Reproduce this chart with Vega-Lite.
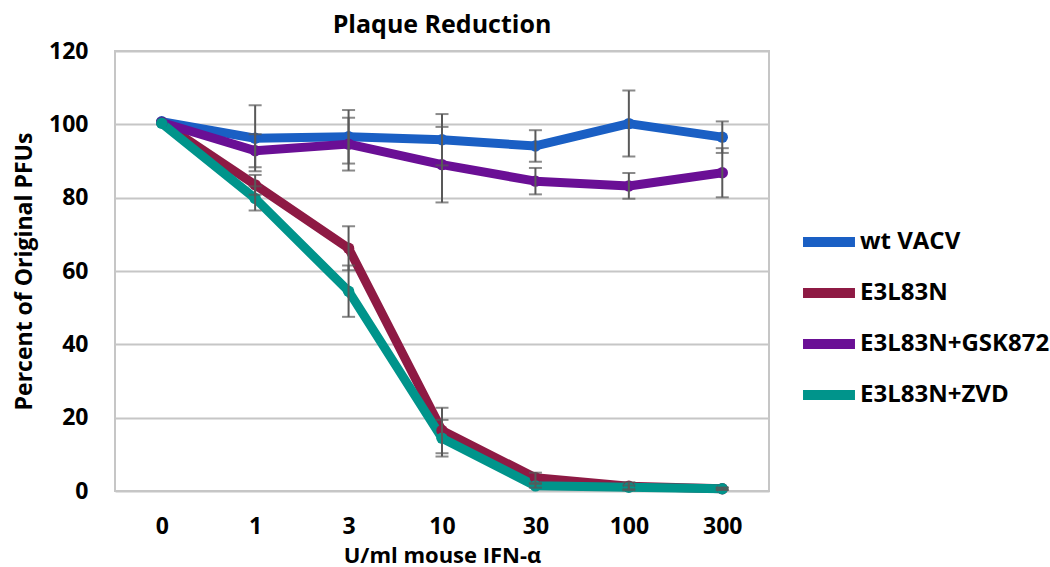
{
  "$schema": "https://vega.github.io/schema/vega-lite/v6.json",
  "autosize": {"type": "none"},
  "width": 654,
  "height": 440,
  "padding": {"left": 115, "top": 51, "right": 281, "bottom": 76},
  "background": "white",
  "config": {
    "font": "Open Sans",
    "view": {"stroke": "#c6c6c6", "strokeWidth": 2},
    "axis": {"labelFont": "Open Sans", "labelFontWeight": "bold", "labelColor": "#000000", "titleFont": "Open Sans", "titleFontWeight": "bold", "titleColor": "#000000"}
  },
  "title": {"text": "Plaque Reduction", "font": "Open Sans", "fontSize": 25, "fontWeight": "bold", "color": "#000000", "anchor": "middle", "offset": 2},
  "data": {"values": [
    {"dose": "0", "series": "wt VACV", "value": 100.7, "err": 0},
    {"dose": "1", "series": "wt VACV", "value": 96.2, "err": 9},
    {"dose": "3", "series": "wt VACV", "value": 96.6, "err": 7.3},
    {"dose": "10", "series": "wt VACV", "value": 95.8, "err": 7},
    {"dose": "30", "series": "wt VACV", "value": 94.1, "err": 4.3},
    {"dose": "100", "series": "wt VACV", "value": 100.2, "err": 9},
    {"dose": "300", "series": "wt VACV", "value": 96.5, "err": 4.3},
    {"dose": "0", "series": "E3L83N", "value": 100.5, "err": 0},
    {"dose": "1", "series": "E3L83N", "value": 83.5, "err": 2.7},
    {"dose": "3", "series": "E3L83N", "value": 66.2, "err": 6},
    {"dose": "10", "series": "E3L83N", "value": 16.5, "err": 6.2},
    {"dose": "30", "series": "E3L83N", "value": 3.6, "err": 1.4},
    {"dose": "100", "series": "E3L83N", "value": 1.3, "err": 1.1},
    {"dose": "300", "series": "E3L83N", "value": 0.6, "err": 0.3},
    {"dose": "0", "series": "E3L83N+GSK872", "value": 100.5, "err": 0},
    {"dose": "1", "series": "E3L83N+GSK872", "value": 92.8, "err": 4.5},
    {"dose": "3", "series": "E3L83N+GSK872", "value": 94.6, "err": 7.2},
    {"dose": "10", "series": "E3L83N+GSK872", "value": 89, "err": 10.3},
    {"dose": "30", "series": "E3L83N+GSK872", "value": 84.5, "err": 3.6},
    {"dose": "100", "series": "E3L83N+GSK872", "value": 83.2, "err": 3.5},
    {"dose": "300", "series": "E3L83N+GSK872", "value": 86.8, "err": 6.7},
    {"dose": "0", "series": "E3L83N+ZVD", "value": 100.3, "err": 0},
    {"dose": "1", "series": "E3L83N+ZVD", "value": 79.8, "err": 3.3},
    {"dose": "3", "series": "E3L83N+ZVD", "value": 54.5, "err": 7},
    {"dose": "10", "series": "E3L83N+ZVD", "value": 14.4, "err": 5},
    {"dose": "30", "series": "E3L83N+ZVD", "value": 1.4, "err": 0.5},
    {"dose": "100", "series": "E3L83N+ZVD", "value": 1.0, "err": 0.5},
    {"dose": "300", "series": "E3L83N+ZVD", "value": 0.6, "err": 0.3}
  ]},
  "encoding": {
    "x": {
      "field": "dose", "type": "nominal", "sort": null,
      "scale": {"type": "point", "padding": 0.5, "domain": ["0", "1", "3", "10", "30", "100", "300"]},
      "axis": {"title": "U/ml mouse IFN-α", "labelAngle": 0, "labelFontSize": 23, "labelPadding": 24, "ticks": false, "domain": false, "grid": false, "titleFontSize": 22, "titleY": 64, "titleBaseline": "middle"}
    },
    "y": {
      "field": "value", "type": "quantitative",
      "title": "Percent of Original PFUs",
      "scale": {"domain": [0, 120]},
      "axis": {"values": [0, 20, 40, 60, 80, 100, 120], "labelFontSize": 23, "labelPadding": 27, "ticks": false, "domain": false, "grid": true, "gridColor": "#c6c6c6", "gridWidth": 2, "titleFontSize": 23, "titleX": -91, "titleY": 220, "titleAngle": -90, "titleBaseline": "middle", "titleAlign": "center"}
    }
  },
  "layer": [
    {
      "mark": {"type": "line", "strokeWidth": 9, "strokeJoin": "round", "point": {"filled": true, "size": 130}},
      "encoding": {
        "color": {
          "field": "series", "type": "nominal",
          "scale": {"domain": ["wt VACV", "E3L83N", "E3L83N+GSK872", "E3L83N+ZVD"], "range": ["#1a5fc4", "#8e1a44", "#6a0f95", "#00948b"]},
          "legend": {"title": null, "orient": "none", "legendX": 683, "legendY": 160, "symbolType": "stroke", "symbolSize": 2700, "symbolStrokeWidth": 10, "labelFont": "Open Sans", "labelFontSize": 24, "labelFontWeight": "bold", "labelColor": "#000000", "labelOffset": 0, "labelLimit": 400, "rowPadding": 0, "padding": 0}
        }
      }
    },
    {
      "transform": [{"filter": "datum.err > 0"}],
      "mark": {"type": "errorbar", "color": "#595959", "rule": {"strokeWidth": 2}, "ticks": {"size": 13, "thickness": 2}},
      "encoding": {
        "yError": {"field": "err"}
      }
    }
  ]
}
